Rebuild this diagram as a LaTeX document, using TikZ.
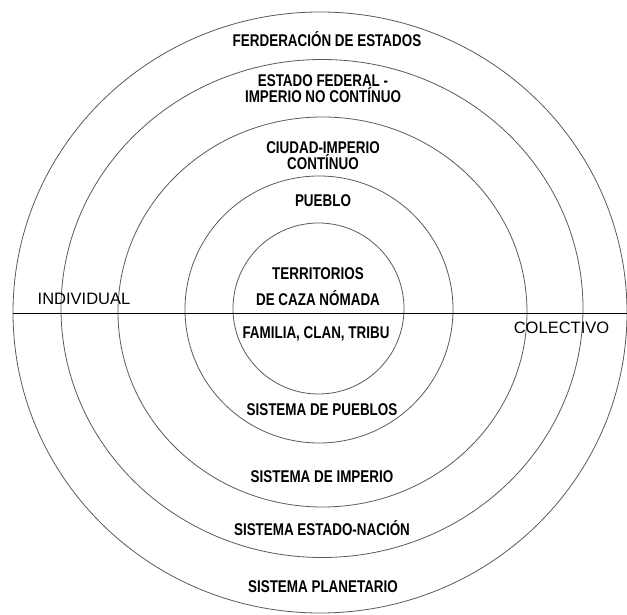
\documentclass[tikz,border=0pt]{standalone}
\usepackage{fontspec}
\usepackage{tikz}
\newfontfamily\rotulo[FakeStretch=0.79]{Liberation Sans}
\newfontfamily\eje{Liberation Sans}
\definecolor{trazo}{HTML}{5A5A5A}

\begin{document}
\begin{tikzpicture}[x=1pt,y=1pt,
      anillo/.style={draw=trazo,line width=0.8pt},
      nivel/.style={font=\rotulo\bfseries\fontsize{17}{16}\selectfont,
                    inner sep=0pt,align=center},
      polo/.style={font=\eje\fontsize{16.5}{18}\selectfont,inner sep=0pt}]
    \useasboundingbox (0,0) rectangle (627,614);
    % anillos: centro x/centro y/radio x/radio y
    \foreach \cx/\cy/\rx/\ry in {318.5/305.5/85.5/85.5,319/304.5/134/133.5,
        322.5/302/204.5/195,322/305.5/261/249,320/301.5/307/300.5}
      \draw[anillo] (\cx,\cy) ellipse [x radius=\rx,y radius=\ry];
    % eje individual -- colectivo
    \coordinate (izq) at (13,301);
    \coordinate (der) at (627,301);
    \draw[line width=0.8pt] (izq) -- (der);
    \node[polo] (indiv) at (84,315) {INDIVIDUAL};
    \node[polo] (colec) at (561.5,286) {COLECTIVO};
    % arriba
    \node[nivel] (fed)    at (327,575) {FERDERACIÓN DE ESTADOS};
    \node[nivel] (estfed) at (323,525) {ESTADO FEDERAL -\\IMPERIO NO CONTÍNUO};
    \node[nivel] (ciudad) at (323,458.5) {CIUDAD-IMPERIO\\CONTÍNUO};
    \node[nivel] (pueblo) at (323,413) {PUEBLO};
    \node[nivel] (terr)   at (318,327.5) {TERRITORIOS\\[10pt]DE CAZA NÓMADA};
    % abajo
    \node[nivel] (fam)    at (316,280) {FAMILIA, CLAN, TRIBU};
    \node[nivel] (sispue) at (322,204) {SISTEMA DE PUEBLOS};
    \node[nivel] (sisimp) at (322,137) {SISTEMA DE IMPERIO};
    \node[nivel] (sisest) at (322,86) {SISTEMA ESTADO-NACIÓN};
    \node[nivel] (sispla) at (323,27) {SISTEMA PLANETARIO};
\end{tikzpicture}
\end{document}
